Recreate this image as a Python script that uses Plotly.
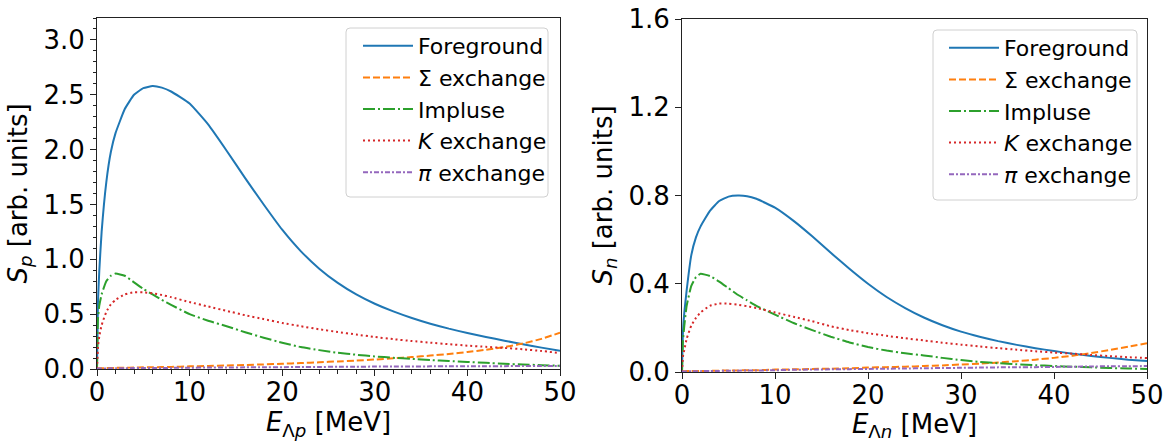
import plotly.graph_objects as go

# Energy grid (MeV), shared by both panels
energy = [0, 0.1, 0.25, 0.5, 1, 1.5, 2, 3, 4, 5, 6, 7, 8, 10, 12, 14, 16, 18, 20,
          22, 24, 26, 28, 30, 32, 34, 36, 38, 40, 42, 44, 46, 48, 50]

# Lambda-p spectrum components
sp_foreground = [0, 0.6, 0.9, 1.25, 1.7, 1.98, 2.15, 2.37, 2.5, 2.56, 2.58, 2.565, 2.53,
                 2.42, 2.23, 1.99, 1.74, 1.5, 1.27, 1.075, 0.915, 0.785, 0.68, 0.595,
                 0.525, 0.465, 0.413, 0.368, 0.328, 0.292, 0.258, 0.226, 0.195, 0.166]
sp_sigma = [0.005, 0.005, 0.006, 0.007, 0.008, 0.009, 0.01, 0.012, 0.013, 0.015, 0.016,
            0.018, 0.019, 0.024, 0.028, 0.032, 0.037, 0.042, 0.048, 0.054, 0.061, 0.069,
            0.077, 0.086, 0.097, 0.109, 0.122, 0.137, 0.155, 0.175, 0.2, 0.232, 0.275, 0.33]
sp_impulse = [0, 0.45, 0.58, 0.68, 0.8, 0.85, 0.87, 0.85, 0.79, 0.73, 0.68, 0.63, 0.585,
              0.5, 0.44, 0.39, 0.335, 0.285, 0.24, 0.2, 0.172, 0.148, 0.13, 0.115, 0.102,
              0.092, 0.082, 0.073, 0.064, 0.056, 0.048, 0.041, 0.035, 0.03]
sp_kaon = [0, 0.2, 0.3, 0.4, 0.52, 0.59, 0.63, 0.68, 0.7, 0.7, 0.69, 0.675, 0.655, 0.61,
           0.57, 0.53, 0.49, 0.455, 0.42, 0.39, 0.362, 0.337, 0.314, 0.292, 0.272, 0.255,
           0.24, 0.226, 0.213, 0.202, 0.192, 0.18, 0.164, 0.146]
sp_pion = [0.003, 0.004, 0.004, 0.005, 0.005, 0.006, 0.006, 0.007, 0.008, 0.008, 0.009,
           0.01, 0.01, 0.012, 0.013, 0.014, 0.015, 0.016, 0.017, 0.018, 0.019, 0.02,
           0.021, 0.022, 0.022, 0.023, 0.024, 0.024, 0.025, 0.026, 0.026, 0.027, 0.027, 0.028]

# Lambda-n spectrum components
sn_foreground = [0, 0.18, 0.27, 0.37, 0.53, 0.61, 0.66, 0.73, 0.775, 0.795, 0.8, 0.797,
                 0.785, 0.745, 0.685, 0.615, 0.54, 0.468, 0.4, 0.34, 0.29, 0.247, 0.212,
                 0.183, 0.16, 0.14, 0.123, 0.108, 0.095, 0.083, 0.073, 0.064, 0.056, 0.05]
sn_sigma = [0.003, 0.003, 0.003, 0.004, 0.004, 0.004, 0.005, 0.005, 0.006, 0.007, 0.007,
            0.008, 0.008, 0.011, 0.012, 0.014, 0.015, 0.017, 0.02, 0.022, 0.024, 0.027,
            0.03, 0.034, 0.038, 0.043, 0.049, 0.056, 0.064, 0.074, 0.086, 0.1, 0.115, 0.13]
sn_impulse = [0, 0.14, 0.21, 0.3, 0.39, 0.43, 0.445, 0.435, 0.41, 0.38, 0.35, 0.325, 0.3,
              0.26, 0.222, 0.19, 0.16, 0.134, 0.113, 0.097, 0.085, 0.075, 0.064, 0.054,
              0.046, 0.04, 0.035, 0.031, 0.027, 0.024, 0.021, 0.018, 0.016, 0.014]
sn_kaon = [0, 0.07, 0.1, 0.15, 0.21, 0.245, 0.27, 0.3, 0.31, 0.31, 0.305, 0.298, 0.29,
           0.27, 0.25, 0.23, 0.207, 0.19, 0.176, 0.164, 0.153, 0.143, 0.133, 0.124, 0.116,
           0.108, 0.101, 0.094, 0.088, 0.083, 0.077, 0.072, 0.067, 0.063]
sn_pion = [0.002, 0.002, 0.002, 0.003, 0.003, 0.003, 0.004, 0.004, 0.005, 0.006, 0.006,
           0.007, 0.007, 0.008, 0.01, 0.011, 0.012, 0.013, 0.014, 0.015, 0.016, 0.017,
           0.018, 0.019, 0.02, 0.021, 0.021, 0.022, 0.023, 0.024, 0.025, 0.026, 0.026, 0.027]

labels = ["Foreground", "Σ exchange", "Impluse", "<i>K</i> exchange", "<i>π</i> exchange"]
colors = ["#1f77b4", "#ff7f0e", "#2ca02c", "#d62728", "#9467bd"]
dashes = ["solid", "7px,3px", "12px,3px,2px,3px", "2px,3px", "5px,2px,2px,2px"]

FONT = "DejaVu Sans, Verdana, sans-serif"
W, H = 1175, 442

fig = go.Figure()

panels = [
    ([sp_foreground, sp_sigma, sp_impulse, sp_kaon, sp_pion], "x", "y", "legend"),
    ([sn_foreground, sn_sigma, sn_impulse, sn_kaon, sn_pion], "x2", "y2", "legend2"),
]
for series, xa, ya, lg in panels:
    for vals, name, col, dash in zip(series, labels, colors, dashes):
        fig.add_trace(go.Scatter(
            x=energy, y=vals, name=name, mode="lines",
            line=dict(color=col, width=2, dash=dash, shape="spline", smoothing=0.4),
            xaxis=xa, yaxis=ya, legend=lg,
        ))

axis_common = dict(
    showline=True, linecolor="#222", linewidth=1, mirror=True,
    ticks="outside", ticklen=6, tickwidth=1, tickcolor="#222",
    showgrid=False, zeroline=False, automargin=False,
    tickfont=dict(family=FONT, size=26, color="black"),
    title_font=dict(family=FONT, size=26, color="black"),
)

legend_common = dict(
    xanchor="left", yanchor="top", itemwidth=50,
    bgcolor="rgba(0,0,0,0)", borderwidth=0,
    font=dict(family=FONT, size=22, color="black"),
)


def legend_frame(x0, y0, x1, y1, r=4):
    """Rounded legend frame given in pixel coordinates from the top-left corner."""
    def px(x):
        return x / W

    def py(y):
        return 1 - y / H

    path = (
        f"M{px(x0 + r)},{py(y0)} L{px(x1 - r)},{py(y0)} "
        f"Q{px(x1)},{py(y0)} {px(x1)},{py(y0 + r)} "
        f"L{px(x1)},{py(y1 - r)} Q{px(x1)},{py(y1)} {px(x1 - r)},{py(y1)} "
        f"L{px(x0 + r)},{py(y1)} Q{px(x0)},{py(y1)} {px(x0)},{py(y1 - r)} "
        f"L{px(x0)},{py(y0 + r)} Q{px(x0)},{py(y0)} {px(x0 + r)},{py(y0)} Z"
    )
    return dict(type="path", xref="paper", yref="paper", path=path,
                line=dict(color="#d0d0d0", width=1),
                fillcolor="rgba(255,255,255,0.8)", layer="above")


fig.update_layout(
    width=W, height=H,
    margin=dict(l=0, r=0, t=0, b=0),
    paper_bgcolor="white", plot_bgcolor="white",
    font=dict(family=FONT, color="black"),
    xaxis=dict(domain=[97 / W, 560 / W], range=[0, 50], dtick=10, anchor="y",
               ticklabelstandoff=-6,
               minor=dict(dtick=2, ticks="outside", ticklen=3.5, tickcolor="#222"),
               title=dict(text="<i>E</i><sub>Λ<i>p</i></sub> [MeV]", standoff=0),
               **axis_common),
    yaxis=dict(domain=[73 / H, 424 / H], range=[0, 3.2], dtick=0.5, tickformat=".1f",
               anchor="x",
               minor=dict(dtick=0.1, ticks="outside", ticklen=3.5, tickcolor="#222"),
               title=dict(text="<i>S</i><sub><i>p</i></sub> [arb. units]", standoff=8),
               **axis_common),
    xaxis2=dict(domain=[682 / W, 1147 / W], range=[0, 50], dtick=10, anchor="y2",
                ticklabelstandoff=-6,
                title=dict(text="<i>E</i><sub>Λ<i>n</i></sub> [MeV]", standoff=0),
                **axis_common),
    yaxis2=dict(domain=[70 / H, 423 / H], range=[0, 1.6], dtick=0.4, tickformat=".1f",
                anchor="x2",
                title=dict(text="<i>S</i><sub><i>n</i></sub> [arb. units]", standoff=8),
                **axis_common),
    legend=dict(x=358 / W, y=1 - 25 / H, **legend_common),
    legend2=dict(x=944 / W, y=1 - 27 / H, **legend_common),
    shapes=[legend_frame(346, 28, 548, 197), legend_frame(933, 30, 1137, 200)],
)

fig.write_html("out.html")
